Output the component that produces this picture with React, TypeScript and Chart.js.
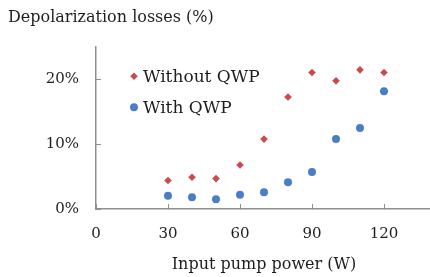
import React, { useEffect, useRef } from "react";
import { Chart, registerables } from "chart.js";
import { drawPoint } from "chart.js/helpers";

Chart.register(...registerables);

const powers = [30, 40, 50, 60, 70, 80, 90, 100, 110, 120];
const withoutQwp = [4.4, 4.9, 4.7, 6.8, 10.8, 17.3, 21.1, 19.8, 21.5, 21.1];
const withQwp = [2.05, 1.8, 1.5, 2.2, 2.6, 4.15, 5.7, 10.8, 12.5, 18.2];
const xTickValues = [0, 30, 60, 90, 120];
const yTickValues = [0, 10, 20];
const seriesNames = ["Without QWP", "With QWP"];
const titleText = "Depolarization losses (%)";
const xTitleText = "Input pump power (W)";

const FONT = "DejaVu Serif";
const TEXT = "#1e1e1e";
const AXIS = "#8f8f8f";
const RED = "#C94B4B";
const BLUE = "#4A7EC6";

const inlineLegend = {
  id: "inlineLegend",
  afterDatasetsDraw(chart: any) {
    const { ctx, chartArea } = chart;
    chart.data.datasets.forEach((ds: any, i: number) => {
      const x = chartArea.left + 38;
      const y = chartArea.top + 29 + i * 31;
      ctx.save();
      ctx.fillStyle = ds.backgroundColor;
      ctx.strokeStyle = ds.borderColor;
      drawPoint(ctx, { pointStyle: ds.pointStyle, radius: ds.pointRadius, borderWidth: 0, rotation: 0 }, x, y);
      ctx.fillStyle = TEXT;
      ctx.font = `17px "${FONT}"`;
      ctx.textAlign = "left";
      ctx.textBaseline = "middle";
      ctx.fillText(ds.label, x + 9, y + 1);
      ctx.restore();
    });
  },
};

export default function App() {
  const ref = useRef<HTMLCanvasElement>(null);
  useEffect(() => {
    document.body.style.margin = "0";
    const canvas = ref.current;
    if (!canvas) return;
    const chart = new Chart(canvas, {
      type: "scatter",
      data: {
        datasets: [
          {
            label: seriesNames[0],
            data: powers.map((p, i) => ({ x: p, y: withoutQwp[i] })),
            backgroundColor: RED,
            borderColor: RED,
            pointStyle: "rectRot",
            pointRadius: 3.8,
            borderWidth: 0,
          },
          {
            label: seriesNames[1],
            data: powers.map((p, i) => ({ x: p, y: withQwp[i] })),
            backgroundColor: BLUE,
            borderColor: BLUE,
            pointStyle: "circle",
            pointRadius: 4,
            borderWidth: 0,
          },
        ],
      },
      options: {
        responsive: false,
        animation: false,
        layout: { padding: { left: 8, right: 3, top: 0, bottom: 0 } },
        plugins: {
          legend: { display: false },
          tooltip: { enabled: false },
          title: {
            display: true,
            text: titleText,
            align: "start",
            color: TEXT,
            font: { family: FONT, size: 16, weight: "normal" },
            padding: { top: 8, bottom: 20 },
          },
        },
        scales: {
          x: {
            type: "linear",
            min: 0,
            max: 140,
            afterBuildTicks: (s: any) => {
              s.ticks = xTickValues.map((value) => ({ value }));
            },
            afterFit: (s: any) => {
              s.height = 68;
            },
            grid: { drawOnChartArea: false, drawTicks: true, tickLength: -5, color: AXIS, lineWidth: 1 },
            border: { color: AXIS, width: 1.5 },
            ticks: { padding: 21, color: TEXT, font: { family: FONT, size: 15 }, maxRotation: 0 },
            title: {
              display: true,
              text: xTitleText,
              color: TEXT,
              font: { family: FONT, size: 16 },
              padding: { top: 0, bottom: 3 },
            },
          },
          y: {
            type: "linear",
            min: 0,
            max: 25,
            afterBuildTicks: (s: any) => {
              s.ticks = yTickValues.map((value) => ({ value }));
            },
            afterFit: (s: any) => {
              s.width = 88;
            },
            grid: { drawOnChartArea: false, drawTicks: true, tickLength: -5, color: AXIS, lineWidth: 1 },
            border: { color: AXIS, width: 1.5 },
            ticks: {
              padding: 22,
              color: TEXT,
              font: { family: FONT, size: 15 },
              callback: (v: any) => `${v}%`,
            },
          },
        },
      },
      plugins: [inlineLegend],
    });
    return () => chart.destroy();
  }, []);
  return (
    <div style={{ width: 430, height: 277, overflow: "hidden" }}>
      <canvas ref={ref} width={436} height={277} style={{ display: "block" }} />
    </div>
  );
}
